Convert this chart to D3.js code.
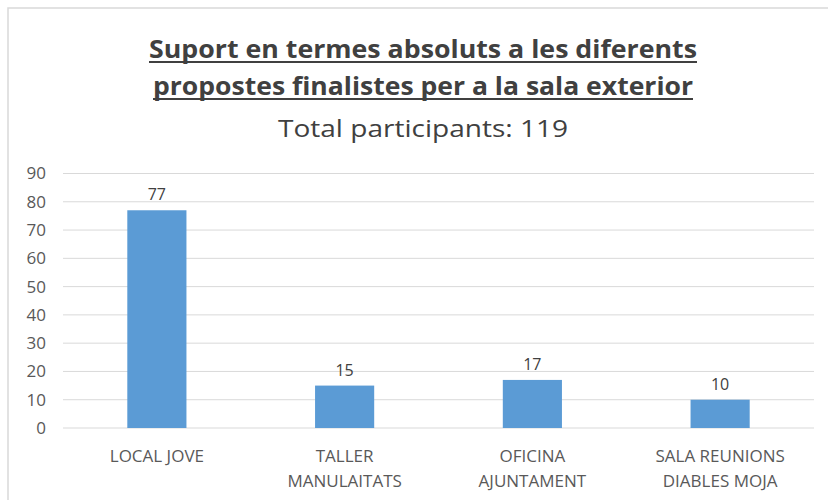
<!DOCTYPE html>
<html>
<head>
<meta charset="utf-8">
<script src="https://cdn.jsdelivr.net/npm/d3@7"></script>
<style>
body{margin:0;background:#fff;}
text{font-family:"Open Sans",sans-serif;}
</style>
</head>
<body>
<div id="chart"></div>
<script>
// data
const categories = [["LOCAL JOVE"], ["TALLER", "MANULAITATS"], ["OFICINA", "AJUNTAMENT"], ["SALA REUNIONS", "DIABLES MOJA"]];
const values = [77, 15, 17, 10];
const yTicks = [0, 10, 20, 30, 40, 50, 60, 70, 80, 90];
const titleLines = ["Suport en termes absoluts a les diferents", "propostes finalistes per a la sala exterior"];
const subtitle = "Total participants: 119";

const width = 828, height = 500;
const svg = d3.select("#chart").append("svg").attr("width", width).attr("height", height);

// chart frame
svg.append("rect").attr("x", 8).attr("y", 8).attr("width", 840).attr("height", 520)
  .attr("fill", "none").attr("stroke", "#d9d9d9").attr("stroke-width", 1.5);

/* titles */
const tw = [548, 540];
titleLines.forEach((t, i) => {
  let ty = 58 + i * 37;
  svg.append("text").attr("x", 423).attr("y", ty).attr("text-anchor", "middle")
    .attr("font-size", 25).attr("font-weight", "bold").attr("fill", "#404040")
    .attr("textLength", tw[i]).attr("lengthAdjust", "spacingAndGlyphs").text(t);
  svg.append("line").attr("x1", 423 - tw[i] / 2).attr("x2", 423 + tw[i] / 2)
    .attr("y1", ty + 4).attr("y2", ty + 4).attr("stroke", "#404040").attr("stroke-width", 1.8);
});
svg.append("text").attr("x", 423).attr("y", 137).attr("text-anchor", "middle")
  .attr("font-size", 23).attr("fill", "#404040")
  .attr("textLength", 290).attr("lengthAdjust", "spacingAndGlyphs").text(subtitle);

/* scales */
const x = d3.scaleBand().domain(d3.range(categories.length)).range([63, 814]).paddingInner(0.685).paddingOuter(0.3425);
const y = d3.scaleLinear().domain([0, 90]).range([428, 173.5]);

// gridlines
svg.append("g").selectAll("line").data(yTicks).enter().append("line")
  .attr("x1", 63).attr("x2", 814).attr("y1", d => y(d)).attr("y2", d => y(d))
  .attr("stroke", "#d9d9d9").attr("stroke-width", 1);

// y axis
const axisY = d3.axisLeft(y).tickValues(yTicks).tickSize(0).tickPadding(0);
svg.append("g").attr("transform", "translate(46,0)").call(axisY)
  .call(g => g.select(".domain").remove())
  .selectAll("text").attr("font-size", 17).attr("fill", "#595959").attr("font-family", "Open Sans, sans-serif");

// bars
svg.append("g").selectAll("rect").data(values).enter().append("rect")
  .attr("x", (d, i) => x(i)).attr("width", x.bandwidth())
  .attr("y", d => y(d)).attr("height", d => y(0) - y(d))
  .attr("fill", "#5b9bd5");

// value labels
svg.append("g").selectAll("text").data(values).enter().append("text")
  .attr("x", (d, i) => x(i) + x.bandwidth() / 2).attr("y", d => y(d) - 10)
  .attr("text-anchor", "middle").attr("font-size", 16).attr("fill", "#404040").text(d => d);

// category labels
const labs = svg.append("g").selectAll("text").data(categories).enter().append("text")
  .attr("text-anchor", "middle").attr("font-size", 17).attr("fill", "#595959");
labs.each(function (d, i) {
  d3.select(this).selectAll("tspan").data(d).enter().append("tspan")
    .attr("x", x(i) + x.bandwidth() / 2).attr("y", (t, j) => 462 + j * 25).text(t => t);
});
</script>
</body>
</html>
